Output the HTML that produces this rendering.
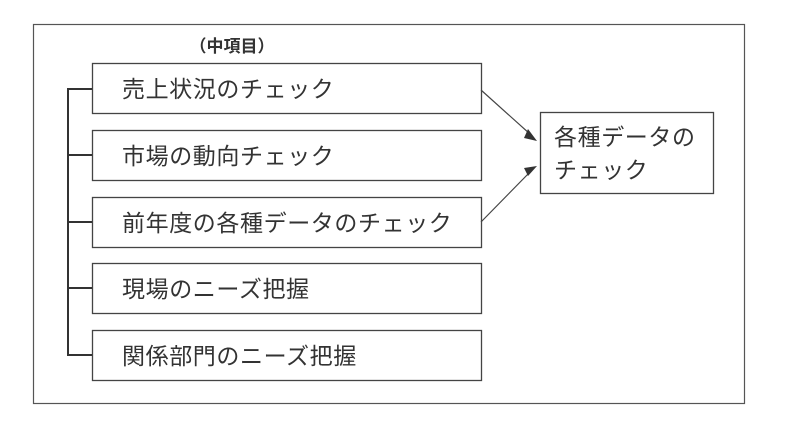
<!DOCTYPE html>
<html><head><meta charset="utf-8"><style>
body{margin:0;background:#fff;}
svg text{font-family:"Liberation Sans","Noto Sans CJK JP",sans-serif;fill:#333;}
</style></head><body>
<svg width="792" height="428" viewBox="0 0 792 428" xmlns="http://www.w3.org/2000/svg">
<rect width="792" height="428" fill="#fff"/>
<rect x="33.5" y="24.5" width="711" height="379" fill="none" stroke="#555" stroke-width="1.2"/>
<text x="232" y="52" font-size="17" font-weight="bold" text-anchor="middle">（中項目）</text>
<g fill="none" stroke="#444" stroke-width="1.3">
<rect x="92.5" y="63.5" width="389" height="50"/>
<rect x="92.5" y="130.5" width="389" height="50"/>
<rect x="92.5" y="197.5" width="389" height="50"/>
<rect x="92.5" y="263.5" width="389" height="50"/>
<rect x="92.5" y="330.5" width="389" height="50"/>
<rect x="540.5" y="112.5" width="173" height="81"/>
</g>
<g stroke="#333" stroke-width="2" fill="none">
<path d="M92 89H68V355H92M68 155H92M68 222H92M68 288H92"/>
</g>
<g stroke="#444" stroke-width="1.2">
<line x1="481" y1="90" x2="530" y2="134"/>
<line x1="481" y1="222" x2="530" y2="172"/>
</g>
<polygon points="537,141 528,129 524,138" fill="#333"/>
<polygon points="537,166 524,168 528,176" fill="#333"/>
<g font-size="23" letter-spacing="0.6">
<text x="122" y="97">売上状況のチェック</text>
<text x="122" y="164">市場の動向チェック</text>
<text x="122" y="231">前年度の各種データのチェック</text>
<text x="122" y="297">現場のニーズ把握</text>
<text x="122" y="364">関係部門のニーズ把握</text>
<text x="554" y="145">各種データの</text>
<text x="554" y="178">チェック</text>
</g>
</svg>
</body></html>
